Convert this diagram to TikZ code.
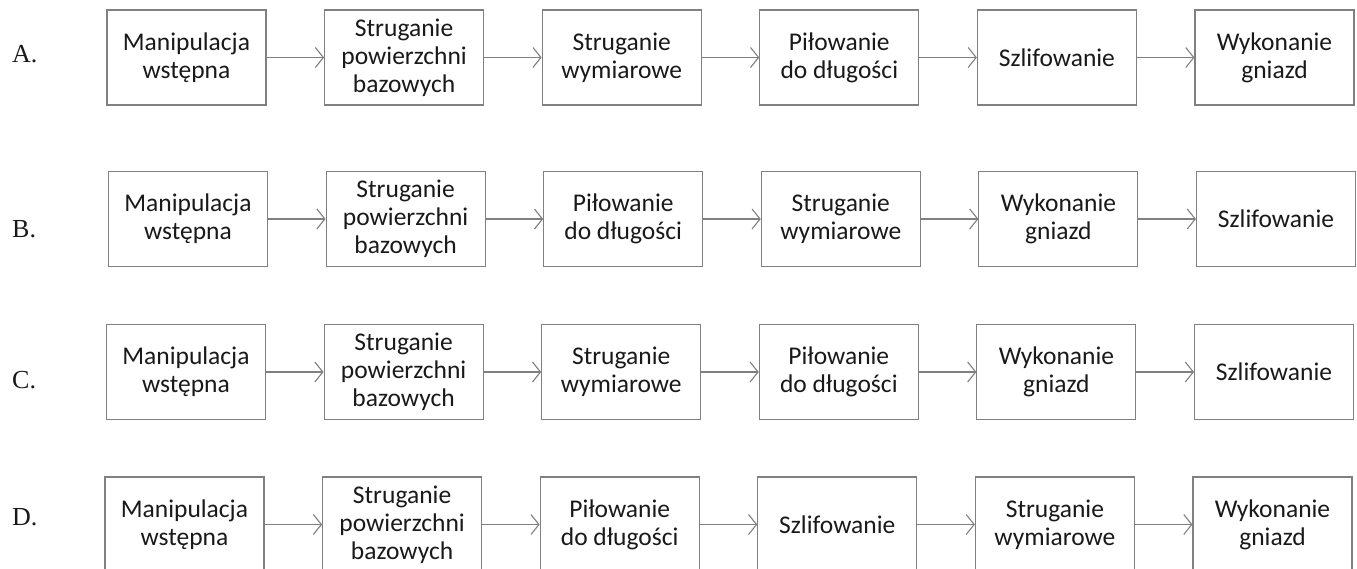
\documentclass[tikz,border=0pt]{standalone}
\usepackage{fontspec}
\setmainfont{Carlito}
\newfontfamily\labelfont{Liberation Serif}
\usetikzlibrary{positioning,arrows.meta}

\begin{document}
\begin{tikzpicture}[
  x=1pt, y=-1pt,
  node distance=57.5pt,
  stage/.style={draw=black!50, line width=1.1pt, rectangle, minimum width=159pt, minimum height=95pt, inner sep=0pt, align=center, text=black!90, font=\fontsize{25.5}{28}\selectfont},
  rowlabel/.style={anchor=base west, inner sep=0pt, text=black!90, font=\labelfont\fontsize{26}{28}\selectfont},
  flow/.style={draw=black!50, line width=1.1pt, -{Straight Barb[length=8pt,width=20pt]}}
]
\clip (0,0) rectangle (1357,569);
\useasboundingbox (0,0) rectangle (1357,569);

% A
\node[rowlabel] (la) at (12,63) {A.};
\node[stage] (a1) at (186.5,57.5) {Manipulacja\\wstępna};
\node[stage, right=of a1] (a2) {Struganie\\powierzchni\\bazowych};
\node[stage, right=of a2] (a3) {Struganie\\wymiarowe};
\node[stage, right=of a3] (a4) {Piłowanie\\do długości};
\node[stage, right=of a4] (a5) {Szlifowanie};
\node[stage, right=of a5] (a6) {Wykonanie\\gniazd};

% B
\node[rowlabel] (lb) at (12,238) {B.};
\node[stage] (b1) at (188,219) {Manipulacja\\wstępna};
\node[stage, right=of b1] (b2) {Struganie\\powierzchni\\bazowych};
\node[stage, right=of b2] (b3) {Piłowanie\\do długości};
\node[stage, right=of b3] (b4) {Struganie\\wymiarowe};
\node[stage, right=of b4] (b5) {Wykonanie\\gniazd};
\node[stage, right=of b5] (b6) {Szlifowanie};

% C
\node[rowlabel] (lc) at (12,388) {C.};
\node[stage] (c1) at (186,372) {Manipulacja\\wstępna};
\node[stage, right=of c1] (c2) {Struganie\\powierzchni\\bazowych};
\node[stage, right=of c2] (c3) {Struganie\\wymiarowe};
\node[stage, right=of c3] (c4) {Piłowanie\\do długości};
\node[stage, right=of c4] (c5) {Wykonanie\\gniazd};
\node[stage, right=of c5] (c6) {Szlifowanie};

% D
\node[rowlabel] (ld) at (12,525) {D.};
\node[stage] (d1) at (184.5,524.5) {Manipulacja\\wstępna};
\node[stage, right=of d1] (d2) {Struganie\\powierzchni\\bazowych};
\node[stage, right=of d2] (d3) {Piłowanie\\do długości};
\node[stage, right=of d3] (d4) {Szlifowanie};
\node[stage, right=of d4] (d5) {Struganie\\wymiarowe};
\node[stage, right=of d5] (d6) {Wykonanie\\gniazd};

\foreach \row in {a,b,c,d}
  \foreach \from/\to in {1/2,2/3,3/4,4/5,5/6}
    \draw[flow] (\row\from.east) -- (\row\to.west);
\end{tikzpicture}
\end{document}
